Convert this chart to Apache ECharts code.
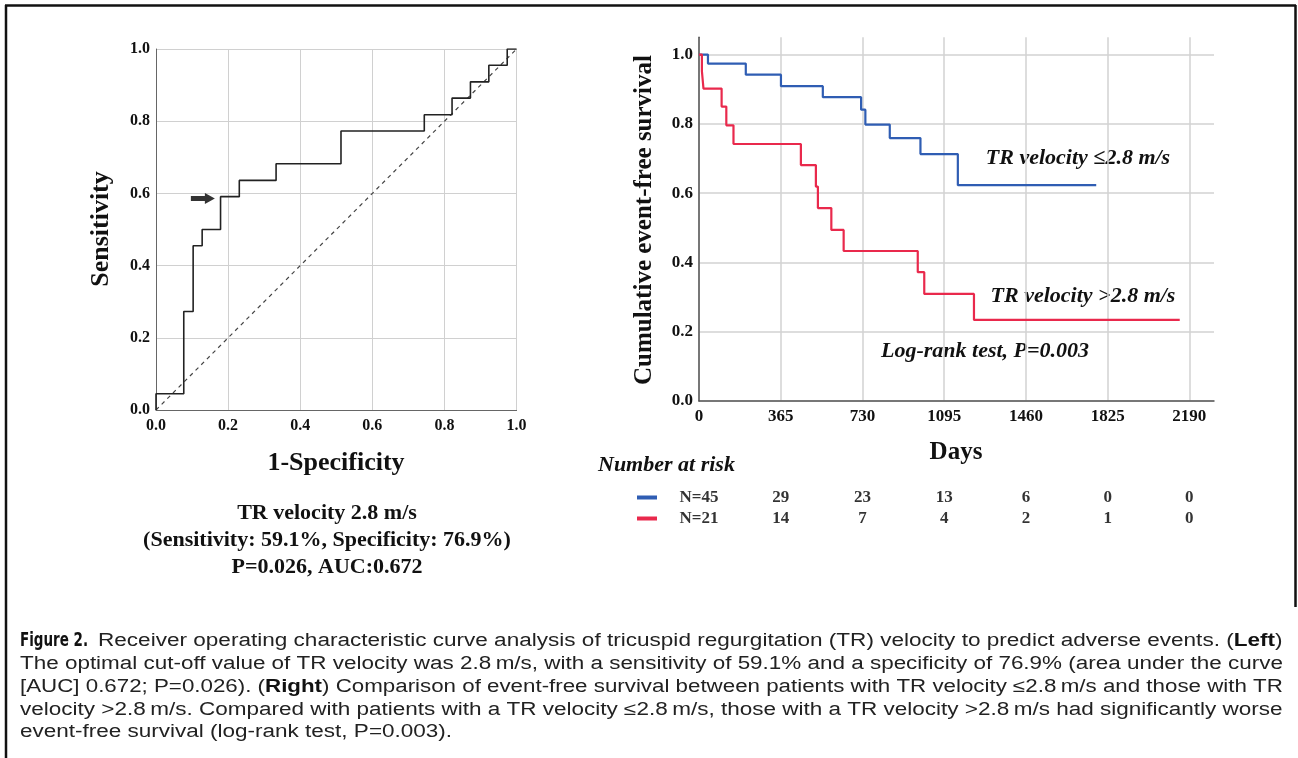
<!DOCTYPE html>
<html><head><meta charset="utf-8">
<script src="https://cdn.jsdelivr.net/npm/echarts@6.0.0/dist/echarts.min.js"></script>
<style>html,body{margin:0;padding:0;background:#fff}#c{width:1298px;height:758px}</style>
</head><body><div id="c"></div>
<script>
// ROC curve (1-specificity, sensitivity) vertices
const rocFpr = [0, 0, 0.077, 0.103, 0.128, 0.179, 0.231, 0.333, 0.513, 0.744, 0.821, 0.872, 0.923, 0.974, 1.0];
const rocTpr = [0, 0.045, 0.273, 0.455, 0.5, 0.591, 0.636, 0.682, 0.773, 0.818, 0.864, 0.909, 0.955, 1.0, 1.0];
const cutFpr = [0.13];
const cutTpr = [0.586];
const rocTicks = [0, 0.2, 0.4, 0.6, 0.8, 1.0];
// Kaplan-Meier
const kmTicks = [0, 365, 730, 1095, 1460, 1825, 2190];
const lowDays = [0, 40, 209, 366, 553, 724, 743, 852, 989, 1156, 1774];
const lowSurv = [1, 0.974, 0.942, 0.909, 0.877, 0.841, 0.798, 0.759, 0.713, 0.623, 0.623];
const highDays = [0, 13, 20, 101, 122, 154, 455, 522, 531, 591, 646, 977, 1006, 1228, 2147];
const highSurv = [1, 0.952, 0.902, 0.850, 0.796, 0.742, 0.681, 0.619, 0.557, 0.494, 0.433, 0.372, 0.309, 0.234, 0.234];
// Number at risk
const riskDays = [0, 365, 730, 1095, 1460, 1825, 2190];
const riskLow = [45, 29, 23, 13, 6, 0, 0];
const riskHigh = [21, 14, 7, 4, 2, 1, 0];
const groupNames = ['TR velocity \u22642.8 m/s', 'TR velocity >2.8 m/s'];

const BLUE = '#2f5db3', RED = '#e9294c';
const SERIF = "'Liberation Serif','Times New Roman',serif";
const SANS = "'Liberation Sans',Arial,Helvetica,sans-serif";
const zip = (a, b) => a.map((v, i) => [v, b[i]]);

const chart = echarts.init(document.getElementById('c'));
const rocLbl = {fontFamily: SERIF, fontWeight: 'bold', fontSize: 16, color: '#111'};
const kmLbl = {fontFamily: SERIF, fontWeight: 'bold', fontSize: 17, color: '#111'};
const gridLine = {show: true, lineStyle: {color: '#d2d2d2', width: 1.5}};
const tt = (x, y, text, size, extra) => ({type: 'text', x, y, style: Object.assign({text, fontFamily: SERIF, fontWeight: 'bold', fontSize: size, fill: '#111', textAlign: 'center', textVerticalAlign: 'middle'}, extra || {})});
const CAP = 18;
const cap = (x, y, text, sx, rich) => ({type: 'text', x, y, scaleX: sx, style: {text, fontFamily: SANS, fontSize: CAP, fill: '#222', textVerticalAlign: 'middle', rich: rich || {}}});
const boldRich = {b2: {fontFamily: SANS, fontWeight: 'bold', fontSize: CAP, fill: '#111'}};

const riskLabel = {show: true, position: 'inside', fontFamily: SERIF, fontWeight: 'bold', fontSize: 17, color: '#000',
  formatter: p => (p.value[3] === 0 ? 'N=' : '') + p.value[2]};

const option = {
  backgroundColor: '#fff',
  animation: false,
  grid: [
    {left: 156, top: 49, width: 360.6, height: 361},
    {left: 699, top: 37.3, width: 515, height: 363.7},
    {left: 699, top: 487, width: 515, height: 42}
  ],
  xAxis: [
    {gridIndex: 0, type: 'value', min: 0, max: 1, interval: 0.2,
     axisLine: {show: true, lineStyle: {color: '#666', width: 1}}, axisTick: {show: false},
     axisLabel: Object.assign({margin: 8, formatter: v => v.toFixed(1)}, rocLbl),
     splitLine: {show: true, lineStyle: {color: '#d0d0d0', width: 1}}},
    {gridIndex: 1, type: 'value', min: 0, max: 2300, interval: 365,
     axisLine: {show: true, onZero: false, lineStyle: {color: '#555', width: 1.5}}, axisTick: {show: false},
     axisLabel: Object.assign({margin: 7, showMaxLabel: false, formatter: v => kmTicks.includes(v) ? String(v) : ''}, kmLbl),
     splitLine: Object.assign({showMaxLine: false}, gridLine)},
    {gridIndex: 2, type: 'value', min: 0, max: 2300, show: false}
  ],
  yAxis: [
    {gridIndex: 0, type: 'value', min: 0, max: 1, interval: 0.2,
     axisLine: {show: true, lineStyle: {color: '#666', width: 1}}, axisTick: {show: false},
     axisLabel: Object.assign({margin: 6, formatter: v => v.toFixed(1)}, rocLbl),
     splitLine: {show: true, lineStyle: {color: '#d0d0d0', width: 1}}},
    {gridIndex: 1, type: 'value', min: 0, max: 1.05, interval: 0.2,
     axisLine: {show: true, onZero: false, lineStyle: {color: '#555', width: 1.5}}, axisTick: {show: false},
     axisLabel: Object.assign({margin: 6, showMaxLabel: false, formatter: v => v > 1.001 ? '' : v.toFixed(1)}, kmLbl),
     splitLine: Object.assign({showMaxLine: false}, gridLine)},
    {gridIndex: 2, type: 'category', data: groupNames, inverse: true, show: false}
  ],
  series: [
    {type: 'line', xAxisIndex: 0, yAxisIndex: 0, data: [[0, 0], [1, 1]], showSymbol: false,
     lineStyle: {color: '#444', width: 1.2, type: [4, 4]}, z: 2},
    {type: 'line', xAxisIndex: 0, yAxisIndex: 0, data: zip(rocFpr, rocTpr), step: 'end', showSymbol: false,
     lineStyle: {color: '#222', width: 1.6}, z: 3},
    {type: 'scatter', xAxisIndex: 0, yAxisIndex: 0, data: zip(cutFpr, cutTpr),
     symbol: 'path://M0,3 L14,3 L14,0 L24,5.5 L14,11 L14,8 L0,8 Z', symbolSize: [24, 11],
     itemStyle: {color: '#000'}, z: 4},
    {type: 'line', name: groupNames[0], xAxisIndex: 1, yAxisIndex: 1, data: zip(lowDays, lowSurv), step: 'end',
     showSymbol: false, lineStyle: {color: BLUE, width: 2.2}, z: 3},
    {type: 'line', name: groupNames[1], xAxisIndex: 1, yAxisIndex: 1, data: zip(highDays, highSurv), step: 'end',
     showSymbol: false, lineStyle: {color: RED, width: 2.2}, z: 3},
    {type: 'scatter', xAxisIndex: 2, yAxisIndex: 2, symbolSize: 1, itemStyle: {color: 'rgba(0,0,0,0)'},
     data: riskDays.map((d, i) => [d, groupNames[0], riskLow[i], i]), label: riskLabel},
    {type: 'scatter', xAxisIndex: 2, yAxisIndex: 2, symbolSize: 1, itemStyle: {color: 'rgba(0,0,0,0)'},
     data: riskDays.map((d, i) => [d, groupNames[1], riskHigh[i], i]), label: riskLabel}
  ],
  graphic: [
    // frame
    {type: 'line', shape: {x1: 5, y1: 5.5, x2: 1296, y2: 5.5}, style: {stroke: '#111', lineWidth: 2.5}},
    {type: 'line', shape: {x1: 6, y1: 5, x2: 6, y2: 758}, style: {stroke: '#111', lineWidth: 2.5}},
    {type: 'line', shape: {x1: 1295.5, y1: 5, x2: 1295.5, y2: 607}, style: {stroke: '#111', lineWidth: 2.5}},
    // ROC titles
    Object.assign(tt(101, 229, 'Sensitivity', 26), {rotation: Math.PI / 2}),
    tt(336, 463, '1-Specificity', 26),
    tt(327, 513, 'TR velocity 2.8 m/s', 22),
    tt(327, 540, '(Sensitivity: 59.1%, Specificity: 76.9%)', 22),
    tt(327, 567, 'P=0.026, AUC:0.672', 22),
    // KM titles
    Object.assign(tt(645, 220, 'Cumulative event-free survival', 25), {rotation: Math.PI / 2}),
    tt(956, 453, 'Days', 25),
    tt(1078, 158, groupNames[0], 22, {fontStyle: 'italic'}),
    tt(1083, 296, groupNames[1], 22, {fontStyle: 'italic'}),
    tt(985, 351, 'Log-rank test, P=0.003', 22, {fontStyle: 'italic'}),
    tt(598, 465, 'Number at risk', 22, {fontStyle: 'italic', textAlign: 'left'}),
    {type: 'line', shape: {x1: 637, y1: 497.5, x2: 657, y2: 497.5}, style: {stroke: BLUE, lineWidth: 4}},
    {type: 'line', shape: {x1: 637, y1: 518.5, x2: 657, y2: 518.5}, style: {stroke: RED, lineWidth: 4}},
    // caption
    {type: 'text', x: 20, y: 641, scaleX: 0.75, style: {text: 'Figure 2.', fontFamily: "'Liberation Sans Narrow','DejaVu Sans Condensed',Arial,sans-serif", fontWeight: 'bold', fontSize: 20, fill: '#111', textVerticalAlign: 'middle'}},
    cap(98, 641, 'Receiver operating characteristic curve analysis of tricuspid regurgitation (TR) velocity to predict adverse events. ({b2|Left})', 1.253, boldRich),
    cap(20, 664, 'The optimal cut-off value of TR velocity was 2.8\u2009m/s, with a sensitivity of 59.1% and a specificity of 76.9% (area under the curve', 1.247),
    cap(20, 687, '[AUC] 0.672; P=0.026). ({b2|Right}) Comparison of event-free survival between patients with TR velocity \u22642.8\u2009m/s and those with TR', 1.24, boldRich),
    cap(20, 710, 'velocity >2.8\u2009m/s. Compared with patients with a TR velocity \u22642.8\u2009m/s, those with a TR velocity >2.8\u2009m/s had significantly worse', 1.25),
    cap(20, 732, 'event-free survival (log-rank test, P=0.003).', 1.25)
  ]
};
chart.setOption(option);
</script></body></html>
